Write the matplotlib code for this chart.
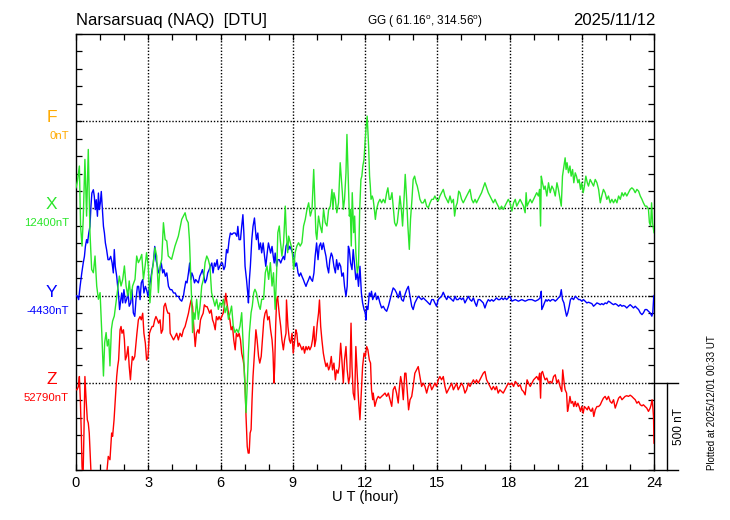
import matplotlib
matplotlib.use('Agg')
import matplotlib.pyplot as plt
import matplotlib.transforms as mtrans
from matplotlib.ticker import MultipleLocator
import numpy as np

plt.rcParams['font.family'] = ['Liberation Sans', 'DejaVu Sans']
plt.rcParams['mathtext.fontset'] = 'custom'
plt.rcParams['mathtext.rm'] = 'Liberation Sans'

# ---------------- text / categories ----------------
station = 'Narsarsuaq (NAQ)  [DTU]'
coords = r'GG ( 61.16$^\mathrm{o}$, 314.56$^\mathrm{o}$)'
date_str = '2025/11/12'
plotted = 'Plotted at 2025/12/01 00:33 UT'
components = ['F', 'X', 'Y', 'Z']
baseline_labels = ['0nT', '12400nT', '-4430nT', '52790nT']
slot_levels = [2000, 1500, 1000, 500]          # nT position of each trace baseline
comp_colors = ['#FFAA00', '#2AE62A', '#0000FF', '#FF0000']
hour_ticks = [0, 3, 6, 9, 12, 15, 18, 21, 24]
scale_nT = 500

# ---------------- X component (deviation from 12400 nT) ----------------
x_hours = [0.00, 0.06, 0.14, 0.19, 0.25, 0.30, 0.37, 0.44, 0.51, 0.58, 0.65, 0.72, 0.79, 0.86, 0.93, 1.00,
           1.07, 1.14, 1.19, 1.25, 1.30, 1.36, 1.41, 1.47, 1.52, 1.59, 1.66, 1.73, 1.80, 1.87, 1.94, 2.01,
           2.08, 2.15, 2.21, 2.28, 2.35, 2.45, 2.52, 2.59, 2.66, 2.73, 2.80, 2.87, 2.93, 3.00, 3.07, 3.14,
           3.21, 3.28, 3.35, 3.42, 3.49, 3.56, 3.63, 3.70, 3.77, 3.83, 3.97, 4.11, 4.25, 4.39, 4.53, 4.59,
           4.66, 4.71, 4.75, 4.80, 4.84, 4.89, 4.94, 5.01, 5.08, 5.15, 5.22, 5.29, 5.36, 5.43, 5.49, 5.56,
           5.63, 5.70, 5.77, 5.84, 5.91, 5.98, 6.05, 6.12, 6.19, 6.26, 6.33, 6.40, 6.46, 6.53, 6.60, 6.67,
           6.74, 6.81, 6.88, 6.95, 7.02, 7.06, 7.11, 7.16, 7.20, 7.27, 7.32, 7.38, 7.43, 7.49, 7.54, 7.60,
           7.65, 7.71, 7.79, 7.86, 7.93, 8.00, 8.07, 8.14, 8.20, 8.27, 8.34, 8.38, 8.44, 8.48, 8.55, 8.62,
           8.69, 8.73, 8.79, 8.83, 8.90, 8.97, 9.04, 9.10, 9.17, 9.24, 9.31, 9.38, 9.45, 9.52, 9.59, 9.66,
           9.73, 9.80, 9.87, 9.91, 9.96, 10.00, 10.07, 10.14, 10.21, 10.28, 10.35, 10.42, 10.49, 10.56, 10.63, 10.67,
           10.71, 10.77, 10.83, 10.90, 10.97, 11.01, 11.06, 11.10, 11.15, 11.21, 11.25, 11.29, 11.35, 11.39, 11.43, 11.47,
           11.53, 11.57, 11.62, 11.68, 11.73, 11.78, 11.83, 11.87, 11.91, 11.96, 12.00, 12.04, 12.09, 12.15, 12.19, 12.22,
           12.25, 12.30, 12.34, 12.39, 12.43, 12.48, 12.55, 12.62, 12.69, 12.76, 12.83, 12.90, 12.95, 13.01, 13.06, 13.12,
           13.17, 13.23, 13.29, 13.34, 13.40, 13.45, 13.51, 13.56, 13.62, 13.67, 13.73, 13.78, 13.84, 13.89, 13.95, 14.00,
           14.06, 14.12, 14.17, 14.23, 14.28, 14.35, 14.42, 14.49, 14.56, 14.63, 14.70, 14.77, 14.84, 14.90, 14.97, 15.04,
           15.11, 15.18, 15.25, 15.32, 15.39, 15.46, 15.53, 15.60, 15.67, 15.72, 15.78, 15.83, 15.89, 15.94, 16.01, 16.08,
           16.15, 16.22, 16.29, 16.36, 16.43, 16.50, 16.57, 16.63, 16.70, 16.77, 16.84, 16.91, 16.98, 17.05, 17.12, 17.19,
           17.26, 17.33, 17.40, 17.46, 17.53, 17.60, 17.67, 17.74, 17.81, 17.88, 17.95, 18.02, 18.10, 18.17, 18.24, 18.30,
           18.37, 18.44, 18.51, 18.58, 18.65, 18.69, 18.73, 18.79, 18.86, 18.93, 19.00, 19.07, 19.13, 19.20, 19.25, 19.29,
           19.32, 19.37, 19.43, 19.48, 19.55, 19.62, 19.69, 19.76, 19.83, 19.90, 19.97, 20.03, 20.10, 20.15, 20.20, 20.26,
           20.31, 20.35, 20.39, 20.45, 20.51, 20.56, 20.62, 20.67, 20.73, 20.78, 20.84, 20.89, 20.95, 21.00, 21.06, 21.11,
           21.17, 21.23, 21.28, 21.35, 21.42, 21.49, 21.56, 21.63, 21.70, 21.77, 21.83, 21.90, 21.97, 22.04, 22.11, 22.18,
           22.25, 22.32, 22.39, 22.46, 22.53, 22.60, 22.67, 22.73, 22.80, 22.87, 22.94, 23.01, 23.08, 23.15, 23.22, 23.29,
           23.36, 23.43, 23.50, 23.56, 23.63, 23.70, 23.77, 23.81, 23.86, 23.90, 23.94, 23.98, 24.00]
x_dev = [118, 157, 243, -101, -216, -63, 281, -44, 338, -139, -350, -369, -273, -445, -521, -483,
         -712, -961, -770, -712, -789, -751, -903, -693, -646, -617, -541, -464, -388, -445, -407, -330,
         -445, -502, -416, -521, -445, -407, -273, -311, -292, -264, -407, -330, -254, -330, -541, -388,
         -311, -225, -273, -483, -330, -292, -82, -178, -187, -273, -292, -216, -159, -63, -25, -63,
         -82, -178, -330, -521, -712, -598, -636, -521, -636, -560, -445, -407, -311, -273, -292, -330,
         -483, -521, -560, -521, -579, -541, -560, -521, -598, -560, -636, -598, -560, -674, -712, -693,
         -712, -674, -598, -808, -1037, -1171, -1018, -827, -712, -598, -560, -483, -464, -483, -521, -560,
         -579, -521, -521, -369, -330, -407, -311, -445, -369, -579, -330, -139, -101, -178, -273, -197,
         13, -139, -254, -159, -197, -235, -350, -254, -216, -197, -216, -197, -101, -63, -6, 32,
         -44, -6, 223, 71, -139, -178, -44, -101, -139, -6, -82, -101, -6, 13, 109, -6,
         90, 52, -25, 32, 262, 185, 90, -6, 52, 204, 424, 243, -44, -6, -216, 90,
         -139, -44, -254, -369, -330, -6, 166, 185, 243, 281, 376, 453, 529, 357, 185, 128,
         52, 71, 52, -6, -63, -6, 32, 52, 32, 52, 32, 90, 118, 52, 52, 90,
         13, -82, -101, -82, -6, 71, -6, -101, 52, 195, 52, -101, -235, -63, 52, 166,
         185, 147, 128, 90, 52, 32, 32, 52, 13, 4, 32, 52, 52, 71, 52, 42,
         71, 90, 109, 71, 52, 32, 71, 32, 52, -44, 13, 32, 99, 90, 52, 32,
         52, 71, 90, 109, 52, 32, 52, 32, 52, 71, 90, 118, 147, 118, 90, 71,
         52, 32, 52, 32, 13, -6, 13, -6, 13, 32, 52, 32, -15, 32, 52, 13,
         32, 52, 32, 13, -25, 90, 13, 32, 52, 32, 52, 71, 90, 71, 109, -101,
         185, 147, 109, 128, 71, 147, 90, 128, 109, 71, 147, 109, 52, 13, 185, 243,
         290, 223, 262, 204, 243, 185, 223, 147, 204, 185, 147, 166, 109, 147, 90, 128,
         185, 147, 128, 166, 147, 128, 166, 147, 109, 32, 71, 109, 90, 52, 71, 32,
         52, 32, 52, 32, 71, 52, 90, 71, 90, 71, 90, 109, 118, 109, 90, 109,
         99, 71, 52, 32, 13, 13, -6, -82, -101, 32, -82, -120, -139]

# ---------------- Y component (deviation from -4430 nT) ----------------
y_hours = [0.00, 0.06, 0.11, 0.17, 0.24, 0.30, 0.35, 0.39, 0.44, 0.48, 0.53, 0.58, 0.62, 0.66, 0.72, 0.76,
           0.80, 0.84, 0.89, 0.93, 0.97, 1.01, 1.05, 1.09, 1.14, 1.18, 1.22, 1.27, 1.33, 1.38, 1.44, 1.50,
           1.55, 1.59, 1.63, 1.69, 1.73, 1.77, 1.81, 1.86, 1.90, 1.94, 1.99, 2.05, 2.10, 2.16, 2.21, 2.27,
           2.33, 2.38, 2.44, 2.49, 2.55, 2.60, 2.66, 2.71, 2.77, 2.82, 2.88, 2.93, 2.99, 3.05, 3.10, 3.16,
           3.21, 3.27, 3.32, 3.38, 3.43, 3.49, 3.54, 3.60, 3.65, 3.71, 3.77, 3.84, 3.91, 3.98, 4.05, 4.12,
           4.18, 4.25, 4.32, 4.39, 4.46, 4.50, 4.56, 4.61, 4.67, 4.72, 4.77, 4.81, 4.86, 4.92, 4.97, 5.03,
           5.08, 5.14, 5.20, 5.25, 5.31, 5.36, 5.42, 5.47, 5.53, 5.58, 5.64, 5.69, 5.75, 5.80, 5.86, 5.91,
           5.97, 6.03, 6.08, 6.14, 6.19, 6.25, 6.30, 6.36, 6.41, 6.47, 6.54, 6.61, 6.68, 6.72, 6.77, 6.83,
           6.88, 6.93, 6.97, 7.02, 7.08, 7.13, 7.16, 7.20, 7.24, 7.30, 7.35, 7.41, 7.45, 7.49, 7.55, 7.60,
           7.66, 7.71, 7.77, 7.83, 7.88, 7.94, 7.99, 8.08, 8.14, 8.19, 8.23, 8.27, 8.33, 8.38, 8.44, 8.50,
           8.55, 8.61, 8.66, 8.72, 8.77, 8.83, 8.88, 8.94, 8.99, 9.05, 9.10, 9.16, 9.22, 9.27, 9.33, 9.38,
           9.44, 9.49, 9.55, 9.60, 9.66, 9.71, 9.77, 9.82, 9.88, 9.93, 9.99, 10.05, 10.10, 10.16, 10.21, 10.27,
           10.32, 10.38, 10.43, 10.49, 10.54, 10.60, 10.65, 10.71, 10.77, 10.82, 10.88, 10.93, 10.99, 11.04, 11.10, 11.15,
           11.21, 11.26, 11.31, 11.35, 11.40, 11.46, 11.51, 11.57, 11.62, 11.68, 11.73, 11.79, 11.85, 11.90, 11.96, 12.01,
           12.04, 12.07, 12.12, 12.18, 12.23, 12.27, 12.32, 12.37, 12.43, 12.48, 12.55, 12.62, 12.69, 12.76, 12.83, 12.90,
           12.97, 13.04, 13.11, 13.17, 13.24, 13.31, 13.38, 13.45, 13.52, 13.59, 13.66, 13.73, 13.80, 13.87, 13.94, 14.00,
           14.07, 14.14, 14.21, 14.28, 14.35, 14.42, 14.49, 14.56, 14.63, 14.70, 14.77, 14.84, 14.90, 14.97, 15.04, 15.11,
           15.18, 15.25, 15.32, 15.39, 15.46, 15.53, 15.60, 15.67, 15.74, 15.80, 15.87, 15.94, 16.01, 16.08, 16.15, 16.22,
           16.29, 16.36, 16.43, 16.50, 16.57, 16.63, 16.70, 16.77, 16.84, 16.91, 16.98, 17.05, 17.12, 17.19, 17.26, 17.33,
           17.40, 17.46, 17.53, 17.60, 17.67, 17.74, 17.81, 17.88, 17.95, 18.02, 18.10, 18.24, 18.37, 18.51, 18.65, 18.79,
           18.93, 19.07, 19.20, 19.27, 19.32, 19.34, 19.40, 19.45, 19.51, 19.56, 19.62, 19.69, 19.76, 19.83, 19.90, 19.97,
           20.03, 20.10, 20.15, 20.20, 20.26, 20.31, 20.37, 20.42, 20.48, 20.53, 20.59, 20.66, 20.73, 20.80, 20.87, 20.93,
           21.00, 21.07, 21.14, 21.21, 21.28, 21.35, 21.42, 21.49, 21.56, 21.63, 21.70, 21.77, 21.83, 21.90, 21.97, 22.04,
           22.11, 22.18, 22.25, 22.32, 22.39, 22.46, 22.53, 22.60, 22.67, 22.73, 22.80, 22.87, 22.94, 23.01, 23.08, 23.15,
           23.22, 23.29, 23.36, 23.43, 23.50, 23.56, 23.63, 23.70, 23.77, 23.84, 23.91, 23.95, 23.99, 24.00]
y_dev = [0, -4, -23, 53, 130, 187, 225, 282, 321, 302, 359, 397, 512, 588, 607, 569,
         493, 550, 455, 588, 493, 531, 597, 512, 397, 359, 302, 264, 206, 206, 225, 187,
         130, 264, 168, 111, 53, -4, -80, -23, 15, -42, 34, -42, -23, 15, -61, -42,
         34, -99, -119, -23, 53, 53, -23, 73, 92, 15, 53, 34, -4, 53, 92, 149,
         187, 282, 206, 168, 130, 149, 187, 130, 149, 111, 130, 53, 34, 34, 15, 15,
         -4, -4, -23, -32, -4, 34, 82, 73, 130, 187, 92, 130, 111, 73, 92, 82,
         73, 111, 130, 149, 111, 73, 92, 130, 149, 168, 187, 130, 187, 168, 206, 149,
         168, 187, 187, 149, 168, 264, 245, 321, 359, 350, 359, 359, 340, 397, 321, 321,
         397, 464, 359, 168, 92, 15, -42, 92, 168, 321, 397, 445, 378, 321, 359, 264,
         302, 245, 302, 225, 168, 245, 302, 244, 282, 225, 187, 244, 168, 206, 206, 187,
         206, 225, 206, 283, 302, 264, 283, 264, 244, 225, 168, 187, 130, 111, 130, 111,
         92, 73, 53, 73, 92, 111, 92, 82, 130, 225, 302, 206, 283, 302, 264, 302,
         264, 225, 168, 130, 206, 244, 225, 168, 130, 206, 149, 187, 168, 111, 130, 53,
         -4, 53, 283, 264, 187, 149, 264, 168, 92, 130, 53, 168, 15, -42, -80, -99,
         -140, -61, -80, 15, -4, 25, -23, -4, 15, -23, -4, -42, -71, -61, -80, -90,
         -61, -23, 15, 44, 34, 15, -13, 25, -23, -32, 6, 34, 53, -4, -61, -80,
         -42, -23, -4, -13, -23, -13, -23, -32, -42, -52, -23, -23, -42, -61, -23, -13,
         -4, 19, -4, -23, -4, -13, -23, -32, -4, -23, -23, -13, -23, -13, -42, -23,
         -4, -23, -32, -13, -42, -61, -23, -23, -32, -42, -71, -42, -23, -32, -23, -32,
         -23, -13, -23, -23, -13, -23, -13, -23, -13, -4, -32, -23, -32, -23, -32, -23,
         -23, -32, -23, -13, 25, -80, -61, -42, -23, -32, -23, -32, -23, -23, -32, -23,
         -13, -4, 34, -23, -42, -80, -118, -99, -61, -23, -13, -23, -4, -13, -23, -23,
         -32, -23, -32, -42, -38, -42, -46, -61, -52, -42, -46, -52, -46, -52, -42, -46,
         -32, -38, -46, -52, -46, -52, -61, -52, -61, -57, -61, -71, -61, -52, -61, -71,
         -61, -71, -80, -99, -109, -99, -80, -80, -90, -99, -118, -99, -4, 0]

# ---------------- Z component (deviation from 52790 nT) ----------------
z_hours = [0.00, 0.04, 0.10, 0.14, 0.18, 0.22, 0.25, 0.29, 0.33, 0.37, 0.42, 0.47, 0.51, 0.55, 0.61, 0.65,
           0.72, 0.86, 1.00, 1.14, 1.25, 1.30, 1.34, 1.41, 1.48, 1.52, 1.58, 1.63, 1.69, 1.73, 1.77, 1.83,
           1.87, 1.91, 1.97, 2.01, 2.05, 2.10, 2.16, 2.21, 2.26, 2.30, 2.34, 2.38, 2.44, 2.49, 2.53, 2.59,
           2.66, 2.71, 2.77, 2.82, 2.88, 2.93, 2.99, 3.05, 3.10, 3.16, 3.21, 3.27, 3.32, 3.38, 3.43, 3.49,
           3.54, 3.60, 3.65, 3.71, 3.77, 3.82, 3.88, 3.91, 3.98, 4.05, 4.12, 4.18, 4.25, 4.32, 4.39, 4.46,
           4.53, 4.60, 4.67, 4.72, 4.78, 4.84, 4.89, 4.95, 5.00, 5.06, 5.11, 5.17, 5.22, 5.28, 5.33, 5.39,
           5.44, 5.50, 5.55, 5.61, 5.67, 5.72, 5.78, 5.83, 5.89, 5.94, 6.00, 6.05, 6.11, 6.16, 6.22, 6.27,
           6.33, 6.39, 6.44, 6.50, 6.55, 6.61, 6.66, 6.72, 6.77, 6.83, 6.88, 6.94, 6.98, 7.02, 7.06, 7.11,
           7.15, 7.19, 7.23, 7.27, 7.31, 7.35, 7.41, 7.47, 7.52, 7.58, 7.63, 7.69, 7.74, 7.80, 7.85, 7.91,
           7.96, 8.02, 8.08, 8.14, 8.18, 8.22, 8.25, 8.29, 8.33, 8.37, 8.41, 8.45, 8.50, 8.55, 8.61, 8.66,
           8.72, 8.74, 8.80, 8.86, 8.91, 8.97, 9.02, 9.08, 9.13, 9.17, 9.22, 9.27, 9.33, 9.38, 9.44, 9.49,
           9.55, 9.60, 9.66, 9.71, 9.77, 9.82, 9.88, 9.91, 9.96, 10.02, 10.07, 10.11, 10.16, 10.21, 10.27, 10.32,
           10.38, 10.43, 10.49, 10.54, 10.60, 10.65, 10.71, 10.77, 10.82, 10.88, 10.93, 10.99, 11.04, 11.10, 11.15, 11.21,
           11.26, 11.32, 11.37, 11.42, 11.46, 11.51, 11.57, 11.62, 11.68, 11.73, 11.79, 11.85, 11.90, 11.96, 12.01, 12.07,
           12.12, 12.18, 12.23, 12.27, 12.32, 12.34, 12.41, 12.48, 12.55, 12.62, 12.69, 12.76, 12.83, 12.90, 12.97, 13.04,
           13.11, 13.17, 13.24, 13.31, 13.38, 13.42, 13.48, 13.53, 13.59, 13.65, 13.70, 13.76, 13.81, 13.87, 13.94, 14.00,
           14.07, 14.14, 14.21, 14.28, 14.35, 14.42, 14.49, 14.56, 14.63, 14.70, 14.77, 14.84, 14.90, 14.97, 15.04, 15.11,
           15.18, 15.25, 15.32, 15.39, 15.46, 15.53, 15.60, 15.67, 15.74, 15.80, 15.87, 15.94, 16.01, 16.08, 16.15, 16.22,
           16.29, 16.36, 16.43, 16.50, 16.57, 16.63, 16.70, 16.77, 16.84, 16.91, 16.98, 17.05, 17.12, 17.19, 17.26, 17.33,
           17.40, 17.46, 17.53, 17.60, 17.67, 17.74, 17.81, 17.88, 17.95, 18.02, 18.10, 18.17, 18.24, 18.30, 18.37, 18.44,
           18.51, 18.58, 18.65, 18.69, 18.73, 18.79, 18.86, 18.93, 19.00, 19.07, 19.13, 19.20, 19.25, 19.29, 19.32, 19.37,
           19.43, 19.48, 19.55, 19.62, 19.69, 19.76, 19.83, 19.90, 19.97, 20.03, 20.10, 20.17, 20.21, 20.27, 20.31, 20.37,
           20.41, 20.45, 20.51, 20.56, 20.62, 20.67, 20.73, 20.78, 20.84, 20.89, 20.95, 21.00, 21.06, 21.11, 21.17, 21.23,
           21.28, 21.34, 21.39, 21.45, 21.50, 21.56, 21.63, 21.70, 21.77, 21.83, 21.90, 21.97, 22.04, 22.11, 22.18, 22.25,
           22.32, 22.39, 22.46, 22.53, 22.60, 22.67, 22.73, 22.80, 22.87, 22.94, 23.01, 23.08, 23.15, 23.22, 23.29, 23.36,
           23.43, 23.50, 23.56, 23.63, 23.70, 23.77, 23.84, 23.88, 23.92, 23.95, 23.98, 23.99, 24.00]
z_dev = [-40, -40, -21, 36, -97, -288, -480, -560, -288, 36, -97, -212, -231, -288, -480, -600,
         -700, -750, -720, -650, -560, -480, -422, -441, -288, -307, -212, -97, 36, 93, 131, 304,
         323, 284, 304, 246, 131, 151, 208, 93, 17, 93, 151, 131, 151, 227, 284, 361,
         380, 361, 399, 284, 227, 131, 151, 284, 304, 323, 323, 361, 380, 361, 342, 361,
         284, 304, 437, 456, 418, 399, 399, 284, 265, 246, 265, 284, 246, 284, 265, 304,
         323, 361, 399, 437, 475, 437, 323, 208, 284, 304, 284, 361, 380, 399, 447, 437,
         437, 418, 399, 418, 361, 342, 304, 380, 361, 380, 361, 380, 399, 437, 513, 456,
         399, 361, 304, 323, 246, 189, 284, 265, 284, 246, 170, 131, 93, -21, -193, -365,
         -403, -403, -288, -269, -97, 36, 170, 304, 246, 151, 113, 151, 246, 361, 399, 418,
         361, 380, 304, 246, 170, -2, 93, 323, 475, 494, 437, 380, 323, 246, 189, 246,
         284, 475, 323, 246, 227, 284, 170, 246, 304, 284, 208, 227, 208, 189, 208, 170,
         208, 189, 208, 189, 208, 246, 323, 208, 246, 342, 399, 475, 323, 246, 170, 131,
         93, 113, 74, 93, 151, 74, 113, 17, 74, 55, 93, 227, 131, -2, 131, 208,
         74, -2, 36, 342, 93, -59, -97, 208, 36, -97, -212, -40, 93, 170, 151, 208,
         189, 131, 113, -40, -97, -59, -135, -97, -78, -88, -78, -69, -59, -78, -59, -97,
         -135, -40, -21, -59, -116, -40, 36, -2, -97, 55, 55, -59, -155, -97, -78, -21,
         55, 74, 93, 36, -21, -2, -21, -59, -21, -2, -40, -21, -2, -21, 17, 36,
         17, 36, -21, -59, -40, -21, -2, -40, -21, -2, -40, -21, -2, -21, -59, -40,
         -2, -21, -2, 17, -2, 17, -2, 17, 36, 55, 65, 17, -2, -21, -40, -21,
         -40, -21, -59, -40, -50, -59, -40, -21, -2, -11, -2, -21, 8, -2, -21, -11,
         -40, -50, -69, -21, 17, -2, -21, -2, 17, 27, 36, 17, 55, -88, 55, 65,
         36, 17, 27, -2, 8, -2, 36, 46, -2, 17, -21, -50, 74, -2, -40, -59,
         -164, -136, -78, -117, -107, -136, -107, -136, -117, -136, -164, -136, -174, -136, -145, -155,
         -136, -155, -164, -145, -193, -155, -136, -136, -126, -107, -88, -78, -97, -78, -107, -117,
         -97, -145, -117, -88, -78, -97, -88, -78, -74, -78, -71, -78, -88, -97, -117, -107,
         -126, -132, -126, -136, -145, -164, -145, -126, -97, -136, -193, -288, -346]

# ---------------- figure ----------------
W, H = 730, 520
fig = plt.figure(figsize=(W / 100, H / 100), dpi=100)
L, R, T, B = 76, 654, 34, 470
ax = fig.add_axes([L / W, 1 - B / H, (R - L) / W, (B - T) / H])
ax.set_xlim(0, 24)
ax.set_ylim(0, 2500)

series = [(x_hours, x_dev, 1), (y_hours, y_dev, 2), (z_hours, z_dev, 3)]
for hrs, dev, idx in [series[2], series[1], series[0]]:
    ax.plot(np.asarray(hrs), slot_levels[idx] + np.asarray(dev), color=comp_colors[idx], lw=1.0, zorder=3)

# grid
dots = (0, (1, 1.3))
for lev in slot_levels:
    ax.axhline(lev, color='black', ls=dots, lw=1.0, zorder=1)
for h in hour_ticks[1:-1]:
    ax.axvline(h, color='black', ls=dots, lw=1.0, zorder=1)

ax.set_xticks(hour_ticks)
ax.set_xticklabels([str(h) for h in hour_ticks])
ax.xaxis.set_minor_locator(MultipleLocator(1))
ax.yaxis.set_major_locator(MultipleLocator(500))
ax.yaxis.set_minor_locator(MultipleLocator(100))
ax.tick_params(which='both', direction='in', top=True, right=True, length=4.2, width=0.9,
               labelleft=False, color='black')
ax.tick_params(axis='x', labelsize=10.5, pad=4)
for s in ax.spines.values():
    s.set_linewidth(1.0)

# component labels
for comp, lab, lev, col in zip(components, baseline_labels, slot_levels, comp_colors):
    ax.annotate(comp, xy=(0, lev), xycoords=('axes fraction', 'data'),
                xytext=(-24.5 * 0.72, -1 * 0.72), textcoords='offset points',
                ha='center', va='baseline', fontsize=12.5, color=col, annotation_clip=False)
    ax.annotate(lab, xy=(0, lev), xycoords=('axes fraction', 'data'),
                xytext=(-7 * 0.72, -18 * 0.72), textcoords='offset points',
                ha='right', va='baseline', fontsize=8.2, color=col, annotation_clip=False)

# scale bar on the right
trans = mtrans.blended_transform_factory(ax.transAxes, ax.transData)
x_end = (678 - L) / (R - L)
x_bar = (667 - L) / (R - L)
ax.plot([1.0, x_end], [0, 0], transform=trans, clip_on=False, color='black', lw=1.0)
ax.plot([1.0, x_end], [scale_nT, scale_nT], transform=trans, clip_on=False, color='black', lw=1.0)
ax.plot([x_bar, x_bar], [0, scale_nT], transform=trans, clip_on=False, color='black', lw=1.0)
ax.text((679 - L) / (R - L), scale_nT / 2, f'{scale_nT} nT', transform=trans, rotation=90,
        ha='center', va='center', fontsize=8.5)

# titles
fig.text(L / W, 1 - 25 / H, station, ha='left', va='baseline', fontsize=12)
fig.text(367 / W, 1 - 25 / H, coords, ha='left', va='baseline', fontsize=8.5)
fig.text(655 / W, 1 - 25 / H, date_str, ha='right', va='baseline', fontsize=12)
fig.text(365 / W, 1 - 501 / H, 'U T (hour)', ha='center', va='baseline', fontsize=10.5)
fig.text(712 / W, 1 - 470 / H, plotted, rotation=90, ha='center', va='bottom', fontsize=7)

fig.savefig('out.png', dpi=100)
